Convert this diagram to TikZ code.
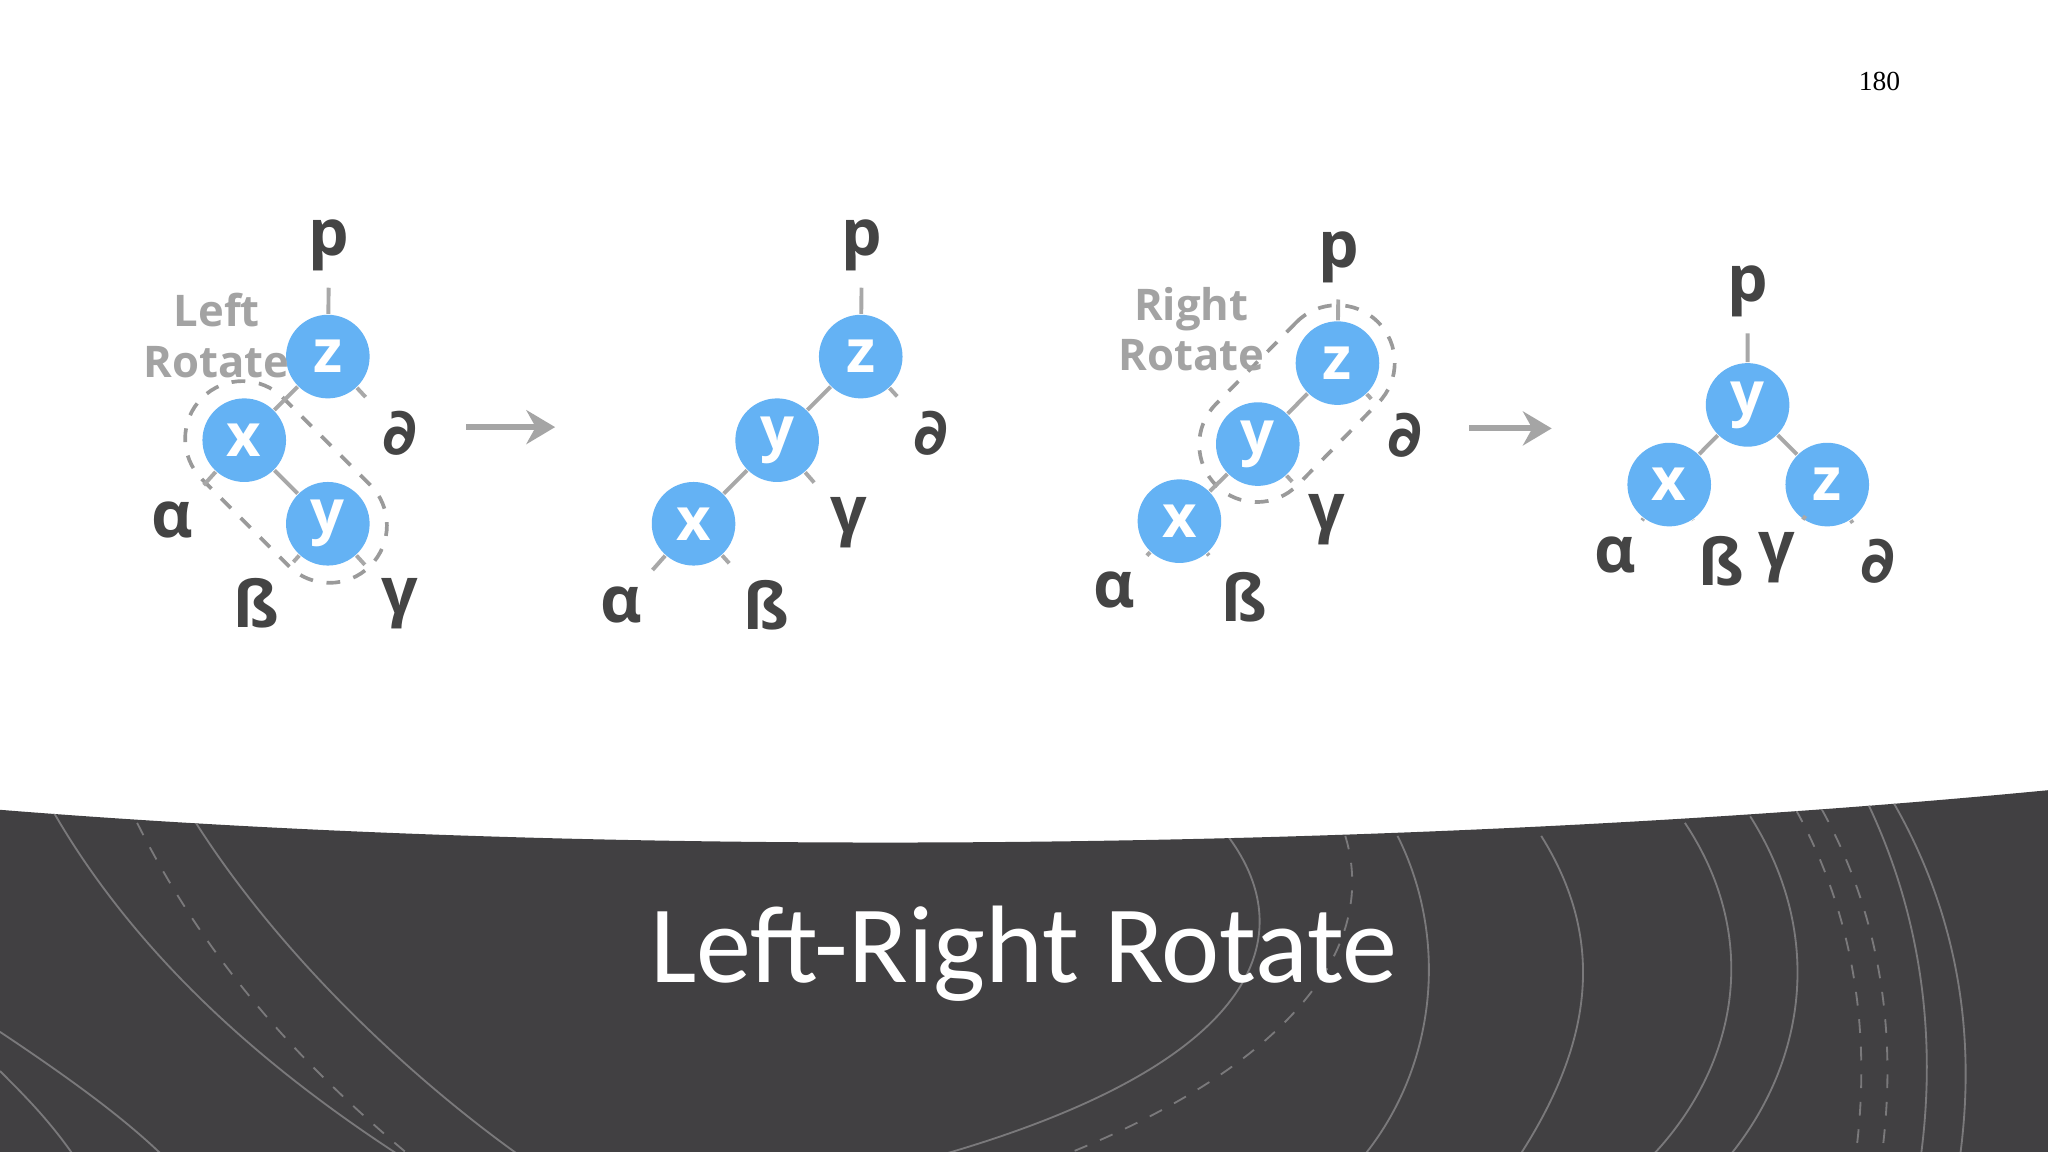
\documentclass[tikz,border=0pt]{standalone}
\usepackage{fontspec}
\usetikzlibrary{arrows.meta}
\setmainfont{Open Sans}
\newfontfamily\dv{DejaVu Sans}
\newfontfamily\ttl{Carlito}
\newfontfamily\pn{Liberation Serif}
\definecolor{nodeblue}{HTML}{64B2F4}
\definecolor{labgray}{HTML}{444444}
\definecolor{edgegray}{HTML}{A8A8A8}
\definecolor{capgray}{HTML}{9A9A9A}
\definecolor{rotgray}{HTML}{A3A3A3}
\definecolor{arrgray}{HTML}{A5A5A5}
\definecolor{band}{HTML}{414042}
\definecolor{bandline}{HTML}{7A797B}
\begin{document}
\begin{tikzpicture}[x=0.1mm,y=-0.1mm,
  nd/.style={circle,fill=nodeblue,minimum size=6.4mm,inner sep=0pt,text=white,font=\bfseries\fontsize{13}{13}\selectfont},
  lb/.style={inner sep=1.2mm,text=labgray,font=\bfseries\fontsize{14}{14}\selectfont},
  ed/.style={draw=edgegray,line width=0.85pt},
  capsule/.style={draw=capgray,dashed,line width=0.8pt,rounded corners=4.4mm,minimum height=8.8mm},
  rt/.style={text=rotgray,font=\bfseries\fontsize{9.5}{11}\selectfont,align=center},
  arr/.style={draw=arrgray,line width=1.3pt,-{Stealth[length=2.2mm,width=2.6mm]}}]
\useasboundingbox (0,0) rectangle (1568,882);
\fill[white] (0,0) rectangle (1568,882);
% dark band
\begin{scope}
\path[clip] (0,620) .. controls (500,660) and (1100,650) .. (1568,605) -- (1568,882) -- (0,882) -- cycle;
\fill[band] (0,600) rectangle (1568,882);
\begin{scope}[draw=bandline,line width=0.4pt]
\draw (40,620) .. controls (120,760) and (250,850) .. (330,900);
\draw[dashed] (105,630) .. controls (170,760) and (260,840) .. (320,890);
\draw (150,630) .. controls (220,740) and (330,840) .. (420,900);
\draw (0,790) .. controls (60,830) and (100,860) .. (130,890);
\draw (0,820) .. controls (20,840) and (40,860) .. (60,890);
\draw (940,640) .. controls (1000,720) and (960,820) .. (700,890);
\draw[dashed] (1030,640) .. controls (1060,740) and (960,830) .. (800,890);
\draw (1070,640) .. controls (1110,720) and (1100,820) .. (1040,890);
\draw (1180,640) .. controls (1230,720) and (1220,800) .. (1160,890);
\draw (1290,630) .. controls (1350,720) and (1330,820) .. (1260,890);
\draw (1340,625) .. controls (1400,720) and (1380,820) .. (1320,890);
\draw[dashed] (1375,620) .. controls (1430,720) and (1430,820) .. (1420,890);
\draw[dashed] (1395,620) .. controls (1450,720) and (1450,820) .. (1440,890);
\draw (1430,615) .. controls (1480,720) and (1480,820) .. (1470,890);
\draw (1450,615) .. controls (1510,720) and (1510,820) .. (1500,890);
\end{scope}
\end{scope}
\node[text=white,font=\ttl\fontsize{24}{24}\selectfont] (title) at (784,730) {Left-Right Rotate};
\node[font=\pn\fontsize{6}{6}\selectfont] (pg) at (1439,62) {180};
% Tree 1
\node[capsule,minimum width=18.2mm,rotate=-45] (c1) at (219,369) {};
\node[nd] (z1) at (251,273) {z};
\node[nd] (x1) at (187,337) {x};
\node[nd] (y1) at (251,401) {y};
\node[lb] (p1) at (252,188) {p};
\node[lb,font=\dv\bfseries\fontsize{14}{14}\selectfont] (d1) at (306,332) {∂};
\node[lb] (a1) at (132,398) {α};
\node[lb] (b1) at (196,462) {ß};
\node[lb] (g1) at (306,462) {γ};
\draw[ed] (p1)--(z1) (z1)--(x1) (z1)--(d1) (x1)--(a1) (x1)--(y1) (y1)--(b1) (y1)--(g1);
\node[rt] (t1) at (166,257) {Left\\Rotate};
\draw[arr] (357,327) coordinate (s1) -- (425,327) coordinate (e1);
% Tree 2
\node[nd] (z2) at (659,273) {z};
\node[nd] (y2) at (595,337) {y};
\node[nd] (x2) at (531,401) {x};
\node[lb] (p2) at (660,188) {p};
\node[lb,font=\dv\bfseries\fontsize{14}{14}\selectfont] (d2) at (713,332) {∂};
\node[lb] (g2) at (650,400) {γ};
\node[lb] (a2) at (476,463) {α};
\node[lb] (b2) at (587,463) {ß};
\draw[ed] (p2)--(z2) (z2)--(y2) (z2)--(d2) (y2)--(x2) (y2)--(g2) (x2)--(a2) (x2)--(b2);
% Tree 3
\node[capsule,minimum width=17.6mm,rotate=45.5] (c3) at (993,309) {};
\node[nd] (z3) at (1024,278) {z};
\node[nd] (y3) at (963,340) {y};
\node[nd] (x3) at (903,399) {x};
\node[lb] (p3) at (1025,197) {p};
\node[lb,font=\dv\bfseries\fontsize{14}{14}\selectfont] (d3) at (1076,333) {∂};
\node[lb] (g3) at (1016,398) {γ};
\node[lb] (a3) at (853,452) {α};
\node[lb] (b3) at (953,457) {ß};
\draw[ed] (p3)--(z3) (z3)--(y3) (z3)--(d3) (y3)--(x3) (y3)--(g3) (x3)--(a3) (x3)--(b3);
\node[rt] (t3) at (912,252) {Right\\Rotate};
\draw[arr] (1125,328) coordinate (s2) -- (1188,328) coordinate (e2);
% Tree 4
\node[nd] (y4) at (1338,310) {y};
\node[nd] (x4) at (1278,371) {x};
\node[nd] (z4) at (1399,371) {z};
\node[lb] (p4) at (1338,223) {p};
\node[lb] (a4) at (1237,425) {α};
\node[lb] (b4) at (1318,430) {ß};
\node[lb] (g4) at (1360,427) {γ};
\node[lb,font=\dv\bfseries\fontsize{14}{14}\selectfont] (d4) at (1438,430) {∂};
\draw[ed] (p4)--(y4) (y4)--(x4) (y4)--(z4) (x4)--(a4) (x4)--(b4) (z4)--(g4) (z4)--(d4);
\end{tikzpicture}
\end{document}
